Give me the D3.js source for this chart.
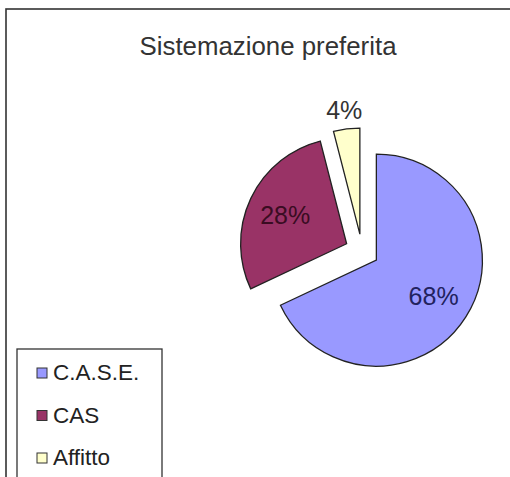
<!DOCTYPE html>
<html>
<head>
<meta charset="utf-8">
<script src="https://cdn.jsdelivr.net/npm/d3@7"></script>
<style>
  html, body { margin: 0; padding: 0; background: #fff; }
  svg { display: block; }
  text { font-family: "Liberation Sans", Arial, sans-serif; }
</style>
</head>
<body>
<svg id="chart" width="510" height="477"></svg>
<script>
const categories = ["C.A.S.E.", "CAS", "Affitto"];
const values = [68, 28, 4];
const labels = ["68%", "28%", "4%"];
const colors = ["#9999FF", "#993366", "#FFFFCC"];
const labelColors = ["#22225e", "#3a0c22", "#333333"];
const title = "Sistemazione preferita";

const svg = d3.select("#chart");
const W = 510, H = 477;

// outer frame
svg.append("rect")
  .attr("x", 6).attr("y", 9)
  .attr("width", W + 20).attr("height", H + 20)
  .attr("fill", "#fff")
  .attr("stroke", "#333").attr("stroke-width", 1.6);

// title
svg.append("text")
  .attr("x", 268).attr("y", 55)
  .attr("text-anchor", "middle")
  .attr("font-size", 26)
  .attr("fill", "#333")
  .attr("textLength", 257)
  .attr("lengthAdjust", "spacingAndGlyphs")
  .text(title);

// pie
const cx = 362, cy = 251, r = 106, explode = 17;
const pie = d3.pie().sort(null).value(d => d)(values);
const arc = d3.arc().innerRadius(0).outerRadius(r);
const labelRadius = [0.64, 0.64, 1.18];

const g = svg.append("g").attr("transform", `translate(${cx},${cy})`);
pie.forEach((p, i) => {
  const mid = (p.startAngle + p.endAngle) / 2;
  const dx = Math.sin(mid) * explode, dy = -Math.cos(mid) * explode;
  const sg = g.append("g").attr("transform", `translate(${dx},${dy})`);
  sg.append("path")
    .attr("d", arc(p))
    .attr("fill", colors[i])
    .attr("stroke", "#222")
    .attr("stroke-width", 1.3)
    .attr("stroke-linejoin", "miter");
  const lr = labelRadius[i] * r;
  const la = d3.arc().innerRadius(lr).outerRadius(lr);
  const [lx, ly] = la.centroid(p);
  sg.append("text")
    .attr("x", lx).attr("y", ly + 9)
    .attr("text-anchor", "middle")
    .attr("font-size", 25)
    .attr("fill", labelColors[i])
    .text(labels[i]);
});

// legend
const lg = svg.append("g");
lg.append("rect")
  .attr("x", 17).attr("y", 349)
  .attr("width", 145).attr("height", 160)
  .attr("fill", "#fff")
  .attr("stroke", "#333").attr("stroke-width", 1.3);
const baselines = d3.scalePoint().domain(categories).range([380, 465]);
categories.forEach((c, i) => {
  const by = baselines(c);
  lg.append("rect")
    .attr("x", 37).attr("y", by - 12)
    .attr("width", 10).attr("height", 10)
    .attr("fill", colors[i])
    .attr("stroke", "#333").attr("stroke-width", 1);
  lg.append("text")
    .attr("x", 53).attr("y", by)
    .attr("font-size", 22.5)
    .attr("fill", "#222")
    .text(c);
});
</script>
</body>
</html>
